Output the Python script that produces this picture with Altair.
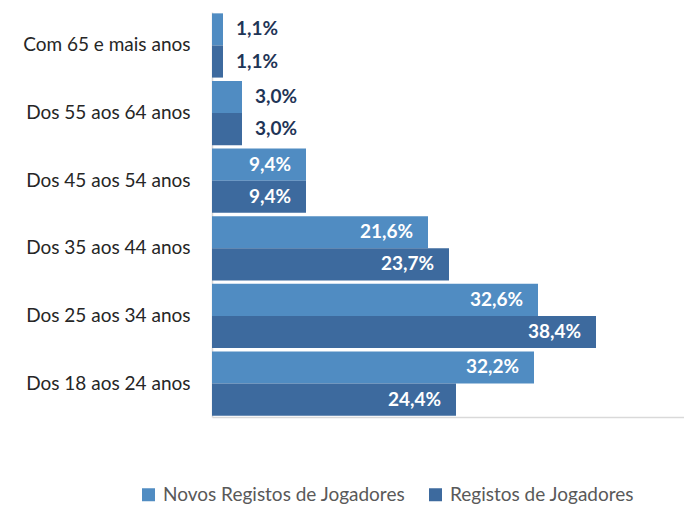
import altair as alt
import pandas as pd

categories = ["Com 65 e mais anos", "Dos 55 aos 64 anos", "Dos 45 aos 54 anos",
              "Dos 35 aos 44 anos", "Dos 25 aos 34 anos", "Dos 18 aos 24 anos"]
series = ["Novos Registos de Jogadores", "Registos de Jogadores"]
novos = [1.1, 3.0, 9.4, 21.6, 32.6, 32.2]
registos = [1.1, 3.0, 9.4, 23.7, 38.4, 24.4]
colors = ["#508CC2", "#3D6A9E"]

rows = []
for c, a, b in zip(categories, novos, registos):
    rows.append({"cat": c, "serie": series[0], "value": a})
    rows.append({"cat": c, "serie": series[1], "value": b})
df = pd.DataFrame(rows)
df["label"] = df["value"].map(lambda v: f"{v:.1f}%".replace(".", ","))

FONT = "Lato"

y_enc = alt.Y("cat:N", sort=categories, title=None,
              scale=alt.Scale(paddingInner=0.05, paddingOuter=0.02),
              axis=alt.Axis(ticks=False, labelPadding=22, labelFontSize=19,
                            labelColor="#262626", labelFont=FONT, labelLimit=300,
                            domainColor="#D9D9D9", domainWidth=1.5))
yoff = alt.YOffset("serie:N", sort=series, scale=alt.Scale(paddingInner=0, paddingOuter=0))
x_enc = alt.X("value:Q", title=None,
              scale=alt.Scale(domain=[0, 47.2], nice=False, zero=True),
              axis=alt.Axis(labels=False, ticks=False, grid=False,
                            domainColor="#D9D9D9", domainWidth=1.5))

base = alt.Chart(df).encode(y=y_enc, yOffset=yoff)

bars = base.mark_bar().encode(
    x=x_enc,
    color=alt.Color("serie:N", sort=series,
                    scale=alt.Scale(domain=series, range=colors),
                    legend=alt.Legend(title=None, orient="none", direction="horizontal",
                                      legendX=-73, legendY=473,
                                      symbolType="square", symbolSize=169,
                                      symbolStrokeWidth=0,
                                      labelFontSize=19, labelFont=FONT,
                                      labelColor="#595959", labelOffset=5,
                                      columnPadding=20, labelLimit=400)),
)

inside = base.mark_text(align="right", baseline="middle", dx=-15, fontSize=19,
                        fontWeight="bold", font=FONT, color="white").encode(
    x=alt.X("value:Q"), text="label:N"
).transform_filter("datum.value >= 5")

outside = base.mark_text(align="left", baseline="middle", dx=13, fontSize=19,
                         fontWeight="bold", font=FONT, color="#1F3557").encode(
    x=alt.X("value:Q"), text="label:N"
).transform_filter("datum.value < 5")

chart = alt.layer(bars, inside, outside).properties(
    width=472, height=405,
    autosize=alt.AutoSizeParams(type="none"),
    padding={"left": 204, "top": 4, "right": 0, "bottom": 90},
).configure_view(stroke=None)

chart.save("out.html", embed_options={"renderer": "svg", "actions": False})
